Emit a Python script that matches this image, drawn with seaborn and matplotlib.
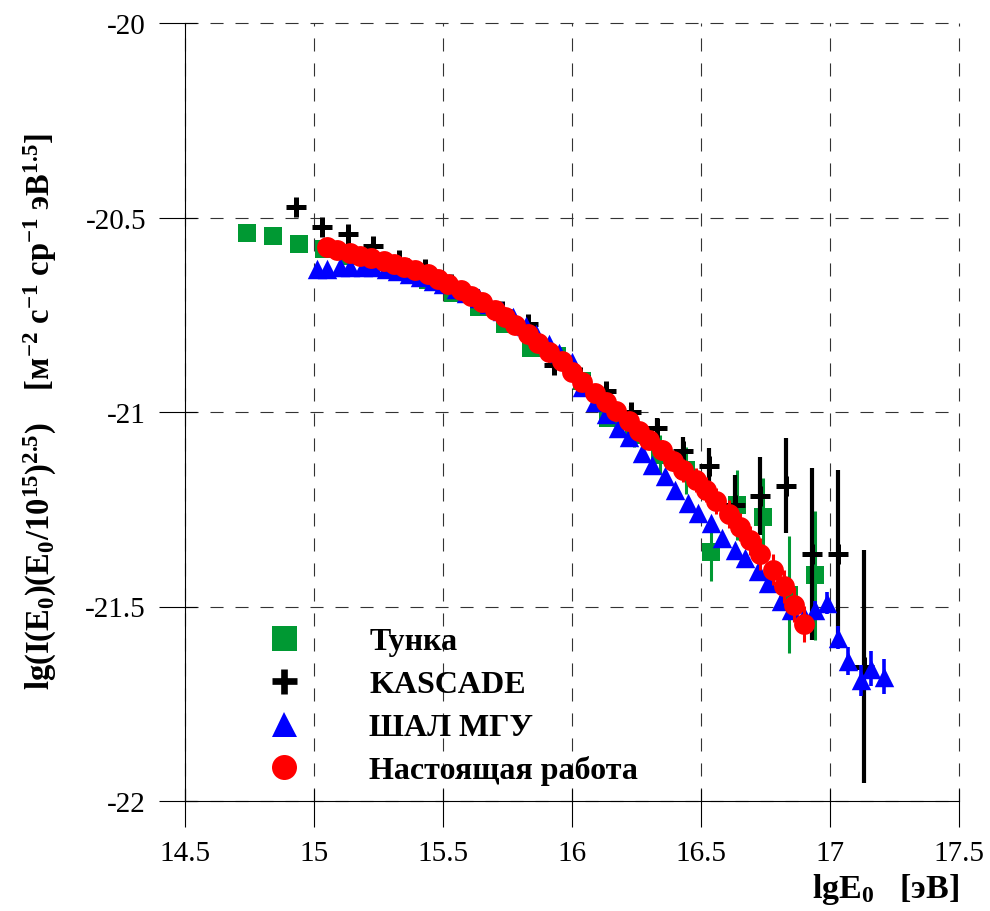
import matplotlib
matplotlib.use("Agg")
import matplotlib.pyplot as plt
import seaborn as sns
import pandas as pd
from matplotlib.lines import Line2D

# ---------------- data ----------------
tunka_x = [14.74, 14.84, 14.94, 15.04, 15.14, 15.24, 15.34, 15.44, 15.54, 15.64, 15.74, 15.84,
           15.94, 16.04, 16.14, 16.24, 16.34, 16.44, 16.54, 16.64, 16.74, 16.84, 16.94]
tunka_y = [-20.540, -20.547, -20.568, -20.580, -20.600, -20.615, -20.635, -20.660, -20.695, -20.730,
           -20.775, -20.835, -20.855, -20.920, -21.015, -21.060, -21.110, -21.150, -21.360, -21.240,
           -21.270, -21.470, -21.420]
tunka_err = [0.005, 0.005, 0.005, 0.005, 0.005, 0.005, 0.005, 0.005, 0.008, 0.008, 0.01, 0.01,
             0.012, 0.015, 0.02, 0.03, 0.05, 0.06, 0.075, 0.09, 0.10, 0.15, 0.165]

kas_x = [14.93, 15.03, 15.13, 15.23, 15.33, 15.43, 15.53, 15.63, 15.73, 15.83, 15.93, 16.03,
         16.13, 16.23, 16.33, 16.43, 16.53, 16.63, 16.73, 16.83, 16.93, 17.03, 17.13]
kas_y = [-20.473, -20.524, -20.542, -20.573, -20.610, -20.632, -20.670, -20.710, -20.740, -20.775,
         -20.880, -20.910, -20.945, -21.000, -21.040, -21.100, -21.140, -21.240, -21.215, -21.190,
         -21.365, -21.365, -21.655]
kas_err = [0.008, 0.008, 0.008, 0.008, 0.008, 0.008, 0.008, 0.008, 0.01, 0.01, 0.01, 0.012,
           0.012, 0.015, 0.025, 0.036, 0.047, 0.077, 0.10, 0.122, 0.222, 0.215, 0.30]

msu_x = [15.01, 15.05, 15.10, 15.14, 15.19, 15.23, 15.28, 15.32, 15.37, 15.41, 15.46, 15.50,
         15.55, 15.59, 15.64, 15.68, 15.73, 15.77, 15.82, 15.86, 15.91, 15.95, 16.00, 16.04,
         16.09, 16.13, 16.18, 16.22, 16.27, 16.31, 16.36, 16.40, 16.45, 16.49, 16.54, 16.58,
         16.63, 16.67, 16.72, 16.76, 16.81, 16.85, 16.90, 16.94, 16.99, 17.03, 17.07, 17.12,
         17.16, 17.21]
msu_y = [-20.632, -20.632, -20.628, -20.626, -20.626, -20.628, -20.633, -20.638, -20.645, -20.652,
         -20.662, -20.672, -20.683, -20.693, -20.706, -20.722, -20.740, -20.756, -20.778, -20.800,
         -20.825, -20.848, -20.872, -20.935, -20.975, -21.005, -21.040, -21.065, -21.105, -21.135,
         -21.165, -21.200, -21.235, -21.260, -21.285, -21.325, -21.355, -21.375, -21.410, -21.440,
         -21.485, -21.510, -21.525, -21.510, -21.490, -21.580, -21.640, -21.690, -21.660, -21.680]
msu_err = [0.005] * 30 + [0.008] * 10 + [0.012, 0.015, 0.02, 0.025, 0.028, 0.03, 0.035, 0.04,
                                          0.045, 0.045]

this_x = [15.05, 15.09, 15.14, 15.18, 15.22, 15.27, 15.31, 15.35, 15.39, 15.44, 15.48, 15.52,
          15.57, 15.61, 15.65, 15.70, 15.74, 15.78, 15.83, 15.87, 15.91, 15.96, 16.00, 16.04,
          16.09, 16.13, 16.17, 16.22, 16.26, 16.30, 16.35, 16.39, 16.43, 16.48, 16.52, 16.56,
          16.61, 16.65, 16.69, 16.73, 16.78, 16.82, 16.86, 16.90]
this_y = [-20.576, -20.584, -20.592, -20.598, -20.604, -20.612, -20.619, -20.627, -20.635, -20.646,
          -20.659, -20.672, -20.686, -20.702, -20.718, -20.737, -20.757, -20.777, -20.800, -20.822,
          -20.845, -20.870, -20.898, -20.922, -20.950, -20.975, -20.998, -21.022, -21.048, -21.072,
          -21.098, -21.125, -21.150, -21.175, -21.200, -21.228, -21.262, -21.295, -21.330, -21.365,
          -21.405, -21.448, -21.495, -21.545]
this_err = [0.006] * 20 + [0.01] * 8 + [0.02, 0.022, 0.025, 0.027, 0.03, 0.03, 0.032, 0.033,
                                         0.035, 0.036, 0.038, 0.04, 0.04, 0.042, 0.044, 0.046]

labels = ["Тунка", "KASCADE", "ШАЛ МГУ", "Настоящая работа"]
xticks = [14.5, 15, 15.5, 16, 16.5, 17, 17.5]
xticklabels = ["14.5", "15", "15.5", "16", "16.5", "17", "17.5"]
yticks = [-22, -21.5, -21, -20.5, -20]
yticklabels = ["-22", "-21.5", "-21", "-20.5", "-20"]

tunka = pd.DataFrame({"x": tunka_x, "y": tunka_y, "e": tunka_err})
kas = pd.DataFrame({"x": kas_x, "y": kas_y, "e": kas_err})
msu = pd.DataFrame({"x": msu_x, "y": msu_y, "e": msu_err})
this = pd.DataFrame({"x": this_x, "y": this_y, "e": this_err})

GREEN = "#009933"
BLUE = "#0000ff"
RED = "#ff0000"
BLACK = "#000000"

# ---------------- style ----------------
sns.set_theme(style="white")
plt.rcParams["font.family"] = ["Liberation Serif", "DejaVu Serif"]
plt.rcParams["mathtext.fontset"] = "custom"
plt.rcParams["mathtext.rm"] = "Liberation Serif:bold"
plt.rcParams["mathtext.it"] = "Liberation Serif:bold"
plt.rcParams["mathtext.bf"] = "Liberation Serif:bold"
plt.rcParams["axes.unicode_minus"] = False
plt.rcParams["lines.scale_dashes"] = False

fig = plt.figure(figsize=(9.9, 9.12), dpi=100)
ax = fig.add_axes([185 / 990, 1 - 802 / 912, (959 - 185) / 990, (802 - 24) / 912])

# error bars
ax.errorbar(tunka["x"], tunka["y"], yerr=tunka["e"], fmt="none", ecolor=GREEN,
            elinewidth=2.2, capsize=0, zorder=2)
ax.errorbar(kas["x"], kas["y"], yerr=kas["e"], fmt="none", ecolor=BLACK,
            elinewidth=3.0, capsize=0, zorder=3)
ax.errorbar(msu["x"], msu["y"], yerr=msu["e"], fmt="none", ecolor=BLUE,
            elinewidth=2.6, capsize=0, zorder=4)
ax.errorbar(this["x"], this["y"], yerr=this["e"], fmt="none", ecolor=RED,
            elinewidth=2.2, capsize=0, zorder=5)

# markers
sns.scatterplot(data=tunka, x="x", y="y", ax=ax, marker="s", s=13.5 ** 2, color=GREEN,
                linewidth=0, legend=False, zorder=2.1)
sns.scatterplot(data=kas, x="x", y="y", ax=ax, marker="+", s=14 ** 2, color=BLACK,
                linewidth=3.6, legend=False, zorder=3.1)
sns.scatterplot(data=msu, x="x", y="y", ax=ax, marker="^", s=14 ** 2, color=BLUE,
                linewidth=0, legend=False, zorder=4.1)
sns.scatterplot(data=this, x="x", y="y", ax=ax, marker="o", s=15 ** 2, color=RED,
                linewidth=0, legend=False, zorder=5.1)

# axes
ax.set_xlim(14.5, 17.5)
ax.set_ylim(-22, -20)
ax.set_xticks(xticks)
ax.set_xticklabels(xticklabels)
ax.set_yticks(yticks)
ax.set_yticklabels(yticklabels)
ax.set_xticks(xticks, minor=True)
ax.set_yticks(yticks, minor=True)
ax.xaxis.remove_overlapping_locs = False
ax.yaxis.remove_overlapping_locs = False
ax.tick_params(which="both", bottom=True, left=True, top=False, right=False)
ax.tick_params(which="major", direction="out", length=19, width=0.8, color="black",
               labelsize=21, labelcolor="black", pad=9)
ax.tick_params(which="minor", direction="in", length=8.5, width=0.8, color="black")
ax.set_xlabel("")
ax.set_ylabel("")

for s in ["top", "right"]:
    ax.spines[s].set_visible(False)
for s in ["left", "bottom"]:
    ax.spines[s].set_color("black")
    ax.spines[s].set_linewidth(0.8)

ax.set_axisbelow(True)
ax.grid(True, which="major", linestyle=(0, (9.4, 8.6)), color="#333333", linewidth=0.8)
for gl in ax.get_xgridlines() + ax.get_ygridlines():
    gl.set_clip_on(False)

# axis titles
fig.text(959 / 990, 1 - 898 / 912, r"lgE$_0$   [эВ]", ha="right", va="baseline",
         fontsize=24.5, fontweight="bold", color="black")
fig.text(40 / 990, 1 - 412 / 912,
         r"lg(I(E$_0$)(E$_0$/10$^{15}$)$^{2.5}$)    [м$^{-2}$ с$^{-1}$ ср$^{-1}$ эВ$^{1.5}$]",
         rotation=90, ha="center", va="center", fontsize=23.5, fontweight="bold", color="black")

# legend
handles = [
    Line2D([], [], linestyle="none", marker="s", markersize=18, color=GREEN, markeredgewidth=0),
    Line2D([], [], linestyle="none", marker="+", markersize=18, color=BLACK, markeredgewidth=4.8),
    Line2D([], [], linestyle="none", marker="^", markersize=18, color=BLUE, markeredgewidth=0),
    Line2D([], [], linestyle="none", marker="o", markersize=18, color=RED, markeredgewidth=0),
]
leg = ax.legend(handles, labels, loc="upper left", frameon=False,
                bbox_to_anchor=(267 / 990, 1 - 628 / 912), bbox_transform=fig.transFigure,
                borderpad=0, borderaxespad=0, handlelength=1.05, handletextpad=2.15,
                labelspacing=0.42, prop={"size": 23, "weight": "bold"})
for t in leg.get_texts():
    t.set_color("black")

fig.savefig("out.png", dpi=100, facecolor="white")
